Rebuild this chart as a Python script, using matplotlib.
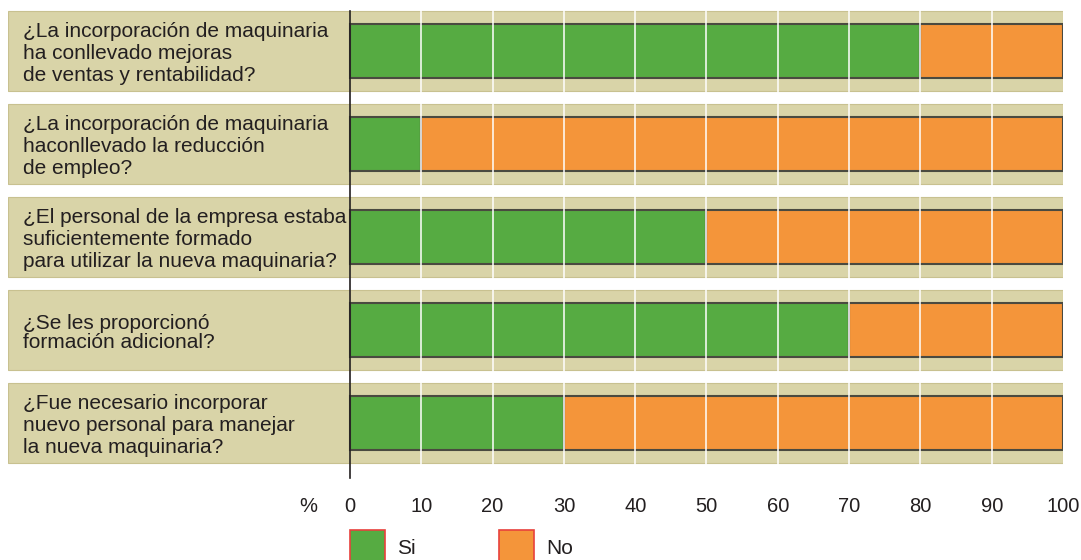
import matplotlib
matplotlib.use("Agg")
import matplotlib.pyplot as plt
from matplotlib.patches import Rectangle

plt.rcParams["font.family"] = ["Liberation Sans", "DejaVu Sans"]

preguntas = [
    "¿La incorporación de maquinaria\nha conllevado mejoras\nde ventas y rentabilidad?",
    "¿La incorporación de maquinaria\nhaconllevado la reducción\nde empleo?",
    "¿El personal de la empresa estaba\nsuficientemente formado\npara utilizar la nueva maquinaria?",
    "¿Se les proporcionó\nformación adicional?",
    "¿Fue necesario incorporar\nnuevo personal para manejar\nla nueva maquinaria?",
]
si = [80, 10, 50, 70, 30]
no = [20, 90, 50, 30, 70]
ticks = [0, 10, 20, 30, 40, 50, 60, 70, 80, 90, 100]

GREEN, ORANGE = "#56ab42", "#f4953a"
BEIGE, BEIGE_EDGE = "#d9d4a8", "#c8c190"
TXT = "#231f20"

W, H = 1081, 560
fig = plt.figure(figsize=(W / 100, H / 100), dpi=100)
# axes spans band area: px 8..1063 horizontally, 0..478 vertically
ax = fig.add_axes([8 / W, (H - 478) / H, (1063 - 8) / W, 478 / H])
xmin = -342 / 7.13
ax.set_xlim(xmin, 100)
ax.set_ylim(4.591, -0.548)
for s in ax.spines.values():
    s.set_visible(False)

ypos = list(range(len(preguntas)))
# beige bands
ax.barh(ypos, 100 - xmin, left=xmin, height=0.86, color=BEIGE,
        edgecolor=BEIGE_EDGE, linewidth=0.8, zorder=1)
# stacked bars
ax.barh(ypos, si, height=0.59, color=GREEN, edgecolor="#4a4a40",
        linewidth=1.5, zorder=2)
ax.barh(ypos, no, left=si, height=0.59, color=ORANGE, edgecolor="#4a4a40",
        linewidth=1.5, zorder=2)
# white grid lines
for t in ticks[1:-1]:
    ax.axvline(t, color="white", lw=1.1, zorder=3)
# axis line at zero
ax.plot([0, 0], [-0.43, 4.591], color="#231f20", lw=1.2, zorder=4,
        clip_on=False)

for y, q in zip(ypos, preguntas):
    nl = q.count("\n") + 1
    ax.text(xmin + 15 / 7.13, y + 0.03, q, va="center",
            ha="left", fontsize=15, color=TXT,
            linespacing=1.2 if nl == 3 else 1.0, zorder=5)

ax.set_xticks(ticks)
ax.set_xticklabels([str(t) for t in ticks], fontsize=14.5, color=TXT)
ax.tick_params(axis="x", length=0, pad=14)
ax.set_yticks([])
ax.annotate("%", xy=(-5.9, 0), xycoords=("data", "axes fraction"),
            xytext=(0, -28), textcoords="offset pixels", ha="center",
            va="center", fontsize=14.5, color=TXT, annotation_clip=False)

# legend
for x0, col, lab in [(350, GREEN, "Si"), (499, ORANGE, "No")]:
    fig.add_artist(Rectangle((x0 / W, (H - 566) / H), 35 / W, 36 / H,
                             transform=fig.transFigure, facecolor=col,
                             edgecolor="#e8413c", linewidth=1.2))
    fig.text((x0 + 47) / W, (H - 548) / H, lab, fontsize=15, color=TXT,
             va="center", ha="left")

fig.savefig("out.png", dpi=100)
